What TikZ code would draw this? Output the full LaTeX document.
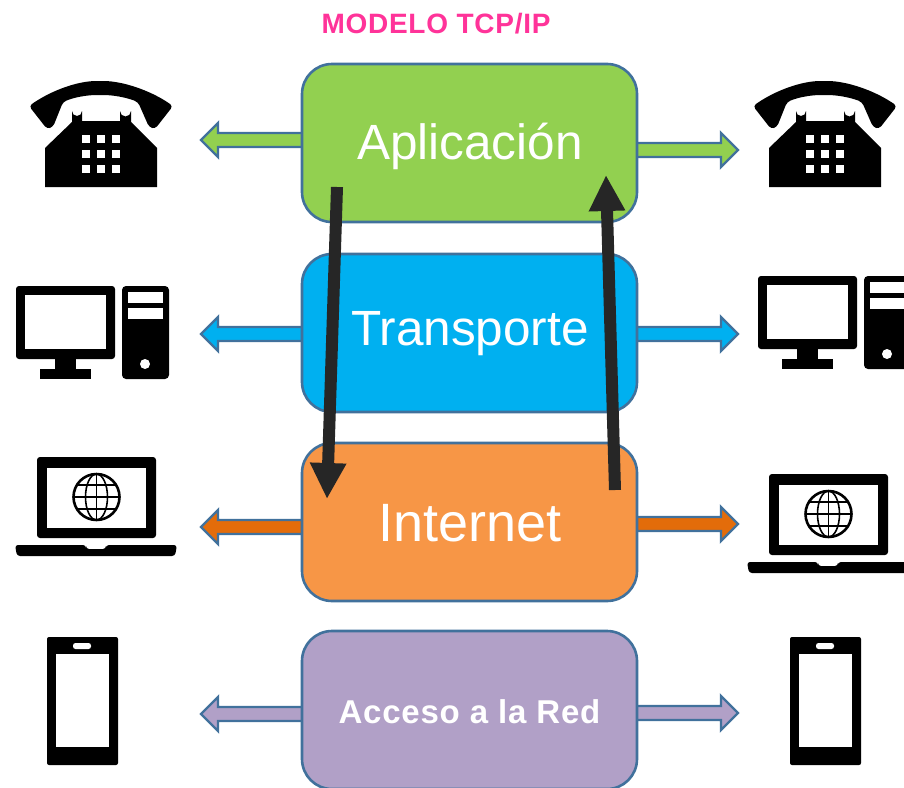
\documentclass[tikz,border=0pt]{standalone}
\usepackage{fontspec}
\setmainfont{Liberation Sans}
\usetikzlibrary{arrows.meta,calc}
\definecolor{bord}{HTML}{41719C}
\definecolor{cgreen}{HTML}{92D050}
\definecolor{cblue}{HTML}{00B0F0}
\definecolor{corange}{HTML}{F79646}
\definecolor{cdorange}{HTML}{E36C0A}
\definecolor{cpurple}{HTML}{B1A0C7}
\definecolor{cpink}{HTML}{FF3399}
\definecolor{cdark}{HTML}{262626}
\tikzset{
 x=1pt,y=-1pt,
 layerbox/.style={draw=bord,line width=2.6pt,rounded corners=30pt,minimum width=335pt,minimum height=158pt,text=white,inner sep=0pt},
 sidearrow/.style={draw=bord,line width=2.4pt,miter limit=10},
 flowarrow/.style={draw=cdark,line width=12pt,-{Triangle[length=36pt,width=34pt]}},
 phoneicon/.pic={
  \fill[black,rounded corners=3.5pt] (29,106) .. controls (52,90) and (78,81) .. (100,81) .. controls (122,81) and (150,90) .. (173,106) -- (155,129) -- (149,127) -- (138,102) .. controls (125,97) and (112,95) .. (100,95) .. controls (88,95) and (75,97) .. (63,102) -- (53,127) -- (47,129) -- cycle;
  \fill[black] (45,187) -- (45,148) -- (72,122) -- (72,111) arc[start angle=180,end angle=0,radius=5] -- (82,121) -- (120,121) -- (120,111) arc[start angle=180,end angle=0,radius=5.5] -- (131,122) -- (157,148) -- (157,187) -- cycle;
  \foreach \kx in {86,101,116}\foreach \ky in {139,154,169}
   \fill[white] (\kx-4,\ky-4) rectangle (\kx+4,\ky+4);
 },
 pcicon/.pic={
  \fill[black,rounded corners=3pt] (16,286) rectangle (115,359);
  \fill[white] (25,295) rectangle (106,349);
  \fill[black] (55,358) rectangle (76,370);
  \fill[black] (40,369) rectangle (91,379);
  \fill[black,rounded corners=4pt] (122,286) rectangle (169,379);
  \fill[white] (128,292) rectangle (163,303);
  \fill[white] (128,308) rectangle (163,319);
  \fill[white] (145,364) circle[radius=5];
 },
 laptopicon/.pic={
  \fill[black,rounded corners=3pt] (37,538) -- (37,457) -- (156,457) -- (156,538) -- cycle;
  \fill[white] (47,468) rectangle (146,528);
  \draw[black,line width=2.6pt] (96.5,497) circle[radius=23];
  \draw[black,line width=1.6pt] (96.5,497) ellipse[x radius=11,y radius=23];
  \draw[black,line width=1.6pt] (96.5,474) -- (96.5,520) (73.5,497) -- (119.5,497) (77,485) -- (116,485) (77,509) -- (116,509);
  \fill[black,rounded corners=3pt] (15,545) -- (86,545) -- (86,549) -- (106,549) -- (106,545) -- (177,545) -- (175,556) -- (17,556) -- cycle;
 },
 mobileicon/.pic={
  \fill[black,rounded corners=2pt] (47,637) rectangle (118,765);
  \fill[white] (56,654) rectangle (109,747);
  \fill[white,rounded corners=2.5pt] (73,643) rectangle (91,649);
 }
}
\newcommand{\blockarrow}[3]{%
 \draw[sidearrow,fill=#3] let \p1=(#1),\p2=(#2),\n1={ifthenelse(\x2>\x1,1,-1)} in
  (\x1,\y2+7pt) -- ({\x2-\n1*17pt},\y2+7pt) -- ({\x2-\n1*17pt},\y2+17pt) -- (\x2,\y2) -- ({\x2-\n1*17pt},\y2-17pt) -- ({\x2-\n1*17pt},\y2-7pt) -- (\x1,\y2-7pt) -- cycle;}
\begin{document}
\begin{tikzpicture}
\useasboundingbox (0,0) rectangle (904,787);
\begin{scope}
\clip (0,0) rectangle (904,787);
% icons
\pic at (0,0) {phoneicon};
\pic at (724,0) {phoneicon};
\pic at (0,0) {pcicon};
\pic at (742,-10) {pcicon};
\pic at (0,0) {laptopicon};
\pic at (732,17) {laptopicon};
\pic at (0,0) {mobileicon};
\pic at (743,0) {mobileicon};
% layer positions and free ends
\coordinate (appC) at (469.5,143);
\coordinate (traC) at (469.5,333);
\coordinate (intC) at (469.5,522);
\coordinate (redC) at (469.5,710);
\coordinate (aL) at (201,140);
\coordinate (aR) at (738,150);
\coordinate (tL) at (201,334);
\coordinate (tR) at (738,334);
\coordinate (iL) at (201,527);
\coordinate (iR) at (738,524);
\coordinate (rL) at (201,714);
\coordinate (rR) at (738,713);
% side arrows start under the boxes
\blockarrow{appC}{aL}{cgreen}
\blockarrow{appC}{aR}{cgreen}
\blockarrow{traC}{tL}{cblue}
\blockarrow{traC}{tR}{cblue}
\blockarrow{intC}{iL}{cdorange}
\blockarrow{intC}{iR}{cdorange}
\blockarrow{redC}{rL}{cpurple}
\blockarrow{redC}{rR}{cpurple}
% layers
\node[layerbox,fill=cgreen] (app) at (appC) {};
\node[layerbox,fill=cblue] (tra) at (traC) {};
\node[layerbox,fill=corange] (int) at (intC) {};
\node[layerbox,fill=cpurple] (red) at (redC) {};
\node[text=white,inner sep=0pt,font=\fontsize{49.5}{49.5}\selectfont] (appT) at (470,146) {Aplicación};
\node[text=white,inner sep=0pt,font=\fontsize{49.5}{49.5}\selectfont] (traT) at (470,334) {Transporte};
\node[text=white,inner sep=0pt,font=\fontsize{54}{54}\selectfont] (intT) at (470,523) {Internet};
\node[text=white,inner sep=0pt,font=\fontsize{33}{33}\bfseries\selectfont\addfontfeature{LetterSpace=2.4}] (redT) at (469.5,712) {Acceso a la Red};
\node[text=cpink,font=\fontsize{28}{28}\bfseries\selectfont\addfontfeature{LetterSpace=2.6},inner sep=0pt] (title) at (436,24) {MODELO TCP/IP};
% flow arrows
\coordinate (dS) at (337,187);
\coordinate (dE) at (327,499);
\coordinate (uS) at (615,490);
\coordinate (uE) at (606,175);
\draw[flowarrow] (dS) -- (dE);
\draw[flowarrow] (uS) -- (uE);
\end{scope}
\end{tikzpicture}
\end{document}
